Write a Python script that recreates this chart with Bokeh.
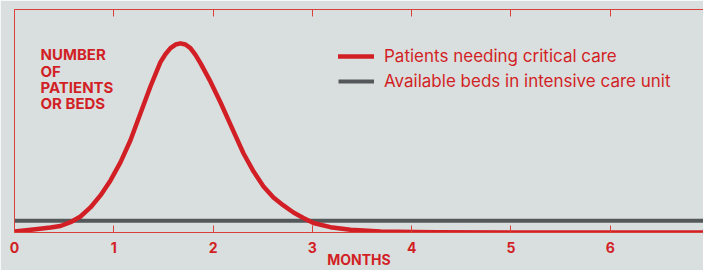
from bokeh.plotting import figure
from bokeh.models import LinearAxis, Legend, LegendItem, Label, Range1d, FixedTicker
from bokeh.embed import file_html
from bokeh.resources import INLINE

# ---- data ----
months = [0.000, 0.191, 0.363, 0.463, 0.564, 0.665, 0.765, 0.866, 0.967, 1.067,
          1.168, 1.269, 1.370, 1.470, 1.520, 1.571, 1.622, 1.672, 1.722, 1.772,
          1.823, 1.873, 1.974, 2.074, 2.205, 2.306, 2.407, 2.508, 2.608,
          2.709, 2.810, 2.910, 3.011, 3.182, 3.384, 3.686, 4.018, 4.260, 5.000,
          6.000, 7.000]
patients = [0.53, 1.58, 2.63, 3.42, 5.42, 8.42, 13.16, 19.47, 27.37, 36.84,
            48.42, 62.6, 76.8, 89.47, 93.6, 96.84, 98.7, 99.32, 98.7, 96.84,
            93.3, 88.95, 79.2, 68.42, 53.2, 41.6, 32.1, 24.2, 18.42,
            14.21, 10.5, 7.63, 5.00, 2.79, 1.42, 0.53, 0.20, 0.10, 0.05,
            0.02, 0.0]
bed_months = [0.0, 7.0]
beds = [6.2, 6.2]
month_ticks = [0, 1, 2, 3, 4, 5, 6, 7]
y_title = ["NUMBER", "OF", "PATIENTS", "OR BEDS"]
x_title = "MONTHS"
legend_labels = ["Patients needing critical care", "Available beds in intensive care unit"]

BG = "#d9dfde"
RED = "#d21f26"
AXIS_RED = "#d9403a"
GRAY = "#54585a"
FONT = "Inter"

p = figure(width=703, height=270, output_backend="svg", toolbar_location=None,
           x_range=Range1d(0, 6.94), y_range=Range1d(0, 117.1),
           x_axis_type=None, y_axis_type=None,
           min_border_left=14, min_border_right=0, min_border_top=9, min_border_bottom=38,
           background_fill_color=BG, border_fill_color=BG, outline_line_color=None)
p.grid.visible = False

beds_r = p.line(bed_months, beds, line_color=GRAY, line_width=4)
pat_r = p.line(months, patients, line_color=RED, line_width=4.5,
               line_join="round", line_cap="round")

def style_x_axis(ax):
    ax.ticker = FixedTicker(ticks=month_ticks)
    ax.axis_line_color = AXIS_RED
    ax.axis_line_width = 1
    ax.major_tick_line_color = AXIS_RED
    ax.major_tick_in = 7
    ax.major_tick_out = 0
    ax.minor_tick_line_color = None

bottom = LinearAxis()
style_x_axis(bottom)
bottom.major_label_text_color = RED
bottom.major_label_text_font = FONT
bottom.major_label_text_font_style = "bold"
bottom.major_label_text_font_size = "14px"
bottom.major_label_standoff = 9
bottom.axis_label = x_title
bottom.axis_label_text_color = RED
bottom.axis_label_text_font = FONT
bottom.axis_label_text_font_style = "bold"
bottom.axis_label_text_font_size = "14px"
bottom.axis_label_standoff = -5
p.add_layout(bottom, "below")

top = LinearAxis()
style_x_axis(top)
top.major_label_overrides = {t: "" for t in month_ticks}
top.major_label_standoff = 0
p.add_layout(top, "above")

left = LinearAxis(ticker=FixedTicker(ticks=[]))
left.axis_line_color = AXIS_RED
left.major_tick_line_color = None
left.minor_tick_line_color = None
left.major_label_standoff = 0
left.major_tick_in = 0
left.major_tick_out = 0
p.add_layout(left, "left")

for i, t in enumerate(y_title):
    p.add_layout(Label(x=26, y=177.7 - 16.3 * i, x_units="screen", y_units="screen",
                       text=t, text_color=RED, text_font=FONT, text_font_style="bold",
                       text_font_size="15px", text_baseline="alphabetic"))

legend = Legend(items=[LegendItem(label=legend_labels[0], renderers=[pat_r]),
                       LegendItem(label=legend_labels[1], renderers=[beds_r])],
                location=(324, 141), orientation="vertical",
                background_fill_alpha=0, border_line_alpha=0,
                padding=0, margin=0, spacing=5,
                glyph_width=36, glyph_height=20, label_height=20,
                label_standoff=10, label_text_font=FONT,
                label_text_font_size="17px", label_text_color=RED)
p.add_layout(legend, "center")

html = file_html(p, INLINE)
html = html.replace("<body>", '<body style="background:%s">' % BG, 1)
open("out.html", "w").write(html)
